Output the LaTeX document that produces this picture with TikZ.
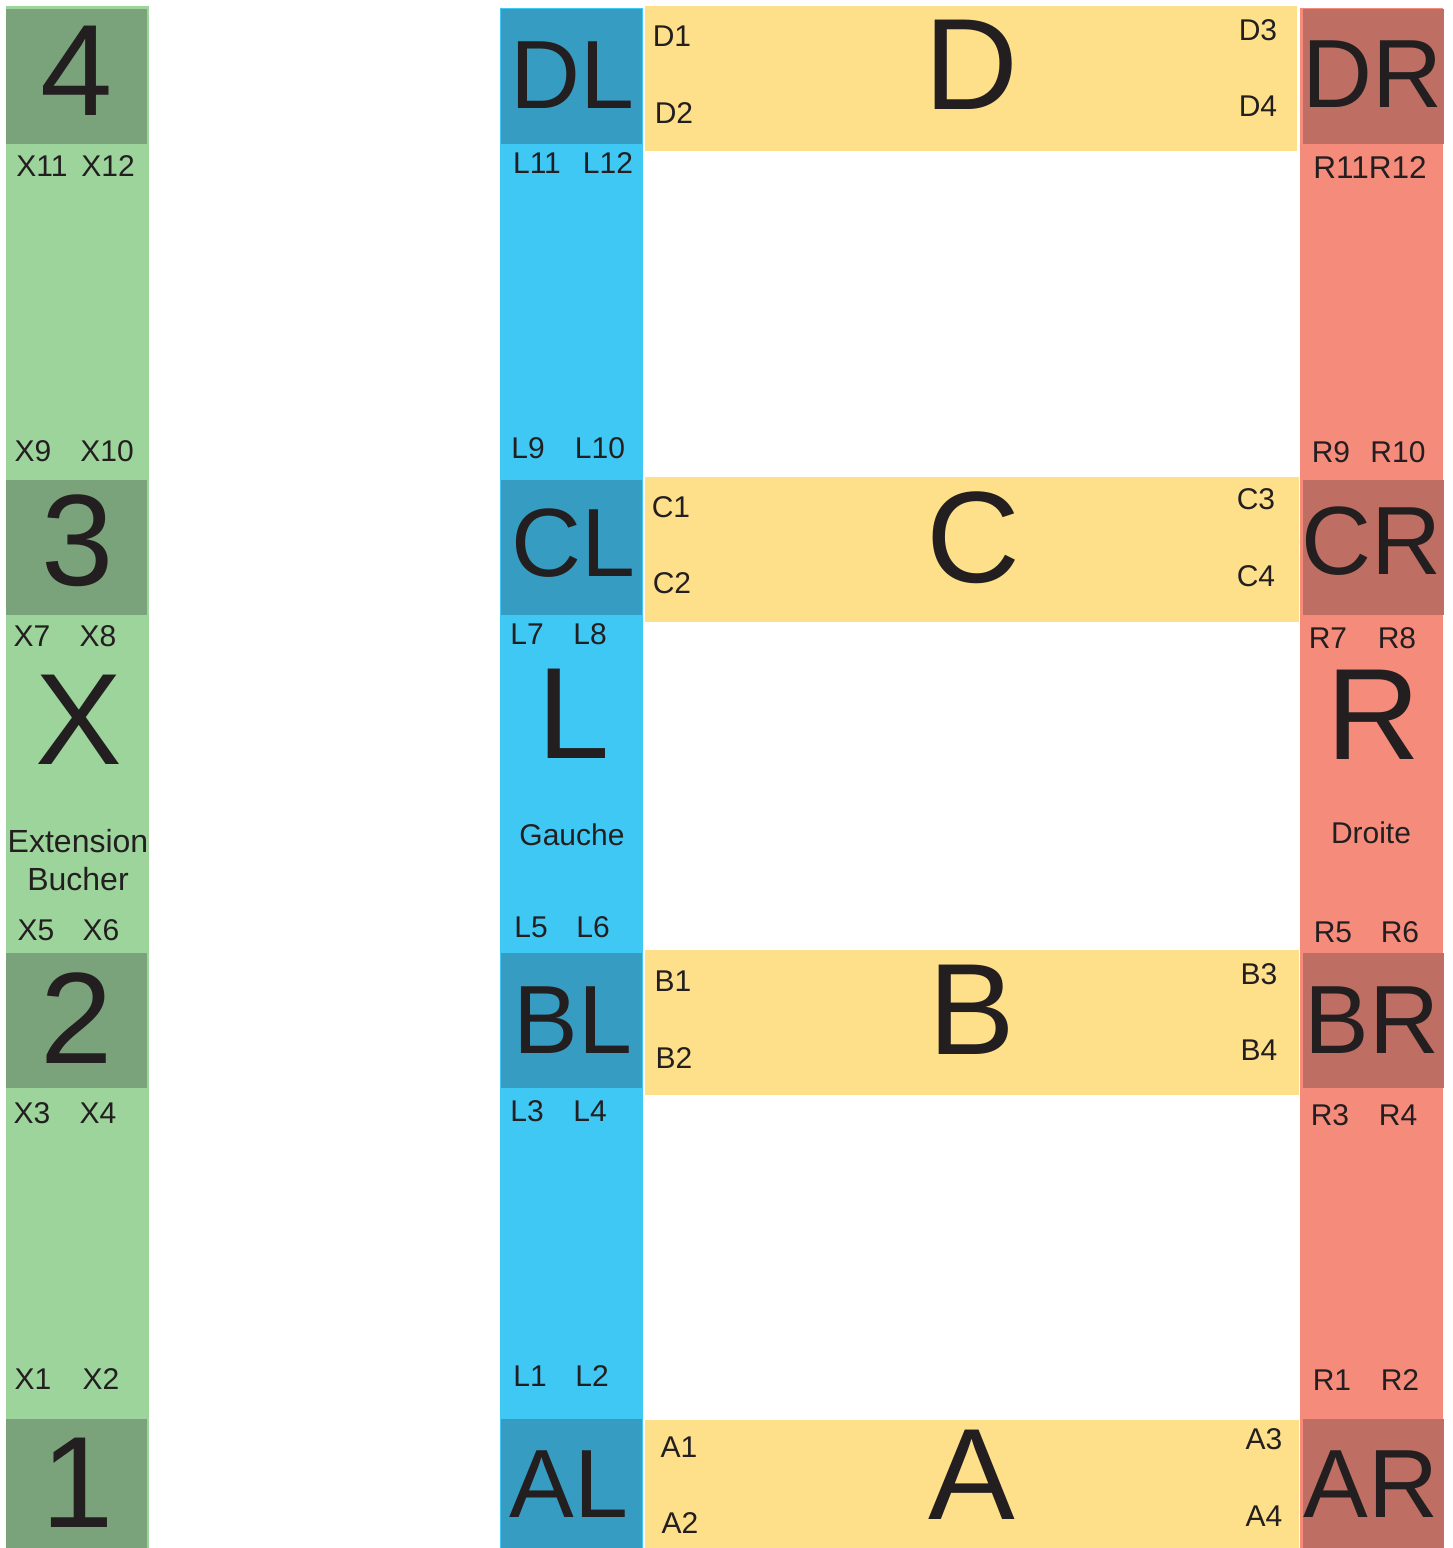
\documentclass[tikz,border=0pt]{standalone}
\usepackage{fontspec}
\setmainfont{Liberation Sans}
\definecolor{gLight}{HTML}{9DD49B}
\definecolor{gDark}{HTML}{7BA37B}
\definecolor{bLight}{HTML}{40C8F4}
\definecolor{bDark}{HTML}{369CC1}
\definecolor{yBand}{HTML}{FEE08B}
\definecolor{rLight}{HTML}{F58B7B}
\definecolor{rDark}{HTML}{BE6E62}
\definecolor{ink}{HTML}{231F20}
\tikzset{
  lab/.style={inner sep=0pt, text=ink, font=\fontsize{30}{30}\selectfont},
  biglet/.style={inner sep=0pt, text=ink, font=\fontsize{130}{130}\selectfont},
  codelet/.style={inner sep=0pt, text=ink, font=\fontsize{97}{97}\selectfont},
  wordlab/.style={inner sep=0pt, text=ink, font=\fontsize{32}{32}\selectfont},
}
\begin{document}
\begin{tikzpicture}[x=1pt,y=-1pt]
\useasboundingbox (0,0) rectangle (1453,1548);
\fill[white] (0,0) rectangle (1453,1548);
% columns
\fill[gLight] (6,6) rectangle (149,1548);
\fill[bLight] (500,8) rectangle (643,1548);
\fill[rLight] (1300,8) rectangle (1443,1548);
% dark boxes
\foreach \ya/\yb in {9/144,480/615,953/1088,1419/1548}{
  \fill[gDark] (6,\ya) rectangle (147,\yb);
  \fill[bDark] (501,\ya) rectangle (642,\yb);
  \fill[rDark] (1303,\ya) rectangle (1444,\yb);
}
% yellow bands
\fill[yBand] (645,6) rectangle (1297,151);
\fill[yBand] (645,477) rectangle (1299,622);
\fill[yBand] (645,950) rectangle (1299,1095);
\fill[yBand] (645,1420) rectangle (1299,1548);

% green column texts
\node[biglet] (n4) at (77,71) {4};
\node[biglet] (n3) at (78,541) {3};
\node[biglet] (n2) at (77,1018) {2};
\node[biglet] (n1) at (78,1483) {1};
\node[biglet] (nX) at (79,720) {X};
\node[lab] (x11) at (42,166) {X11};
\node[lab] (x12) at (108,166) {X12};
\node[lab] (x9) at (33,451) {X9};
\node[lab] (x10) at (107,451) {X10};
\node[lab] (x7) at (32,636) {X7};
\node[lab] (x8) at (98,636) {X8};
\node[wordlab] (ext) at (78,841) {Extension};
\node[wordlab] (buch) at (78,879) {Bucher};
\node[lab] (x5) at (36,930) {X5};
\node[lab] (x6) at (101,930) {X6};
\node[lab] (x3) at (32,1113) {X3};
\node[lab] (x4) at (98,1113) {X4};
\node[lab] (x1) at (33,1379) {X1};
\node[lab] (x2) at (101,1379) {X2};

% blue column texts
\node[codelet] (DL) at (572,75) {DL};
\node[codelet] (CL) at (573,543) {CL};
\node[codelet] (BL) at (573,1020) {BL};
\node[codelet] (AL) at (569,1484) {AL};
\node[biglet] (nL) at (574,714) {L};
\node[lab] (l11) at (537,163) {L11};
\node[lab] (l12) at (608,163) {L12};
\node[lab] (l9) at (528,448) {L9};
\node[lab] (l10) at (600,448) {L10};
\node[lab] (l7) at (527,634) {L7};
\node[lab] (l8) at (590,634) {L8};
\node[lab] (gau) at (572,835) {Gauche};
\node[lab] (l5) at (531,927) {L5};
\node[lab] (l6) at (593,927) {L6};
\node[lab] (l3) at (527,1111) {L3};
\node[lab] (l4) at (590,1111) {L4};
\node[lab] (l1) at (530,1376) {L1};
\node[lab] (l2) at (592,1376) {L2};

% red column texts
\node[codelet] (DR) at (1373,74) {DR};
\node[codelet] (CR) at (1372,541) {CR};
\node[codelet] (BR) at (1372,1020) {BR};
\node[codelet] (AR) at (1371,1484) {AR};
\node[biglet] (nR) at (1373,715) {R};
\node[lab, font=\fontsize{31.5}{31.5}\selectfont] (r1112) at (1370,167) {R11R12};
\node[lab] (r9) at (1331,452) {R9};
\node[lab] (r10) at (1398,452) {R10};
\node[lab] (r7) at (1328,638) {R7};
\node[lab] (r8) at (1397,638) {R8};
\node[lab] (dro) at (1371,833) {Droite};
\node[lab] (r5) at (1333,932) {R5};
\node[lab] (r6) at (1400,932) {R6};
\node[lab] (r3) at (1330,1115) {R3};
\node[lab] (r4) at (1398,1115) {R4};
\node[lab] (r1) at (1332,1380) {R1};
\node[lab] (r2) at (1400,1380) {R2};

% yellow band texts
\node[biglet] (bD) at (971,65) {D};
\node[lab] (d1) at (672,36) {D1};
\node[lab] (d2) at (674,113) {D2};
\node[lab] (d3) at (1258,30) {D3};
\node[lab] (d4) at (1258,106) {D4};
\node[biglet] (bC) at (973,538) {C};
\node[lab] (c1) at (671,507) {C1};
\node[lab] (c2) at (672,583) {C2};
\node[lab] (c3) at (1256,499) {C3};
\node[lab] (c4) at (1256,576) {C4};
\node[biglet] (bB) at (972,1010) {B};
\node[lab] (b1) at (673,981) {B1};
\node[lab] (b2) at (674,1058) {B2};
\node[lab] (b3) at (1259,974) {B3};
\node[lab] (b4) at (1259,1050) {B4};
\node[biglet] (bA) at (972,1475) {A};
\node[lab] (a1) at (679,1447) {A1};
\node[lab] (a2) at (680,1523) {A2};
\node[lab] (a3) at (1264,1439) {A3};
\node[lab] (a4) at (1264,1516) {A4};
\end{tikzpicture}
\end{document}
